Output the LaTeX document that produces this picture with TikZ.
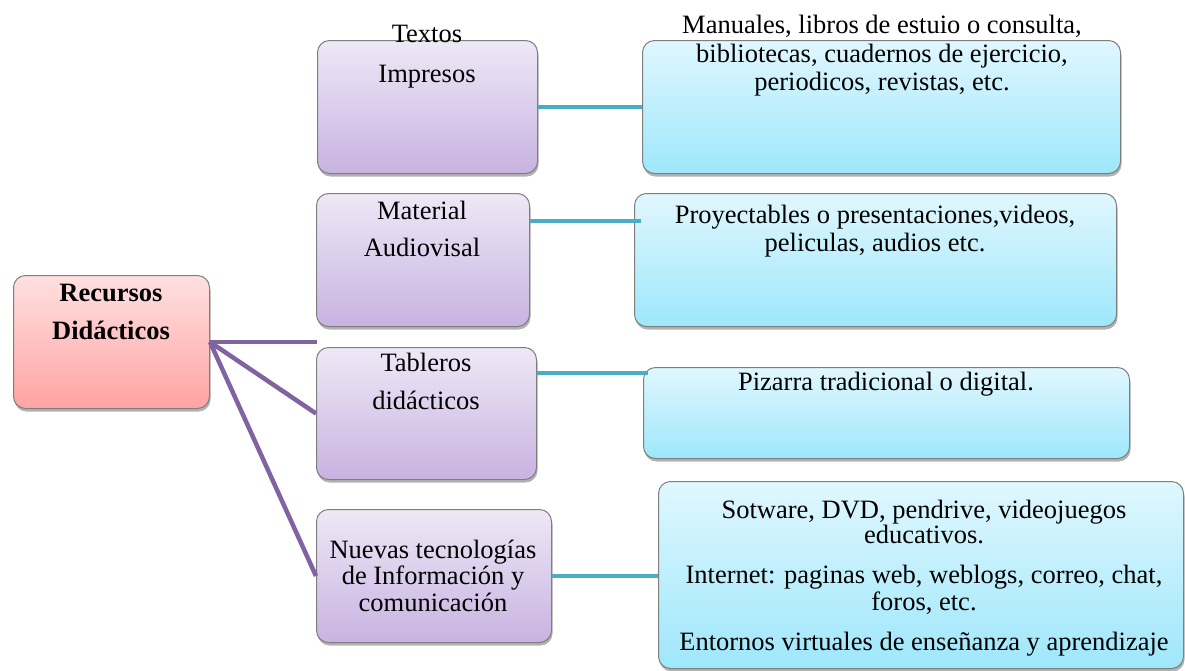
\documentclass[tikz,border=0pt]{standalone}
\usepackage{fontspec}
\setmainfont{Liberation Serif}
\usetikzlibrary{shadows,calc}
\definecolor{boxborder}{HTML}{7F7F7F}
\definecolor{pTop}{HTML}{EEE8F6}
\definecolor{pBot}{HTML}{C8B3E1}
\definecolor{bTop}{HTML}{E0F7FE}
\definecolor{bBot}{HTML}{9EE7FB}
\definecolor{rTop}{HTML}{FFE0E0}
\definecolor{rBot}{HTML}{FFA3A3}
\definecolor{purpleLine}{HTML}{8064A2}
\definecolor{tealLine}{HTML}{4BACC6}
\begin{document}
\begin{tikzpicture}[x=1pt,y=-1pt,
  box/.style={draw=boxborder, line width=1pt, rounded corners=12pt, inner sep=0pt,
    anchor=north west,
    drop shadow={shadow xshift=1pt, shadow yshift=-3pt, opacity=0.3, fill=black}},
  purplebox/.style={box, top color=pTop, bottom color=pBot},
  bluebox/.style={box, top color=bTop, bottom color=bBot},
  rootbox/.style={box, top color=rTop, bottom color=rBot},
  txt/.style={anchor=base, inner sep=0pt, font=\fontsize{26.5}{28}\selectfont},
  btxt/.style={anchor=base, inner sep=0pt, font=\fontsize{26.5}{28}\selectfont\bfseries},
  purpleline/.style={draw=purpleLine, line width=4.5pt},
  tealline/.style={draw=tealLine, line width=4.5pt}]
\useasboundingbox[fill=white] (0,0) rectangle (1185,670);

% boxes
\node[rootbox, minimum width=196pt, minimum height=133pt] (root) at (13,275) {};
\node[purplebox, minimum width=220pt, minimum height=133pt] (tex) at (317,40) {};
\node[purplebox, minimum width=213pt, minimum height=133pt] (mat) at (316,193) {};
\node[purplebox, minimum width=220pt, minimum height=132pt] (tab) at (316,347) {};
\node[purplebox, minimum width=235pt, minimum height=133pt] (nue) at (316,509) {};
\node[bluebox, minimum width=478pt, minimum height=133pt] (b1) at (642,40) {};
\node[bluebox, minimum width=482pt, minimum height=133pt] (b2) at (634,193) {};
\node[bluebox, minimum width=486pt, minimum height=91pt] (b3) at (643,367) {};
\node[bluebox, minimum width=525pt, minimum height=187pt] (b4) at (658,481) {};

% texts
\node[btxt] (r1) at (111,301) {Recursos};
\node[btxt] (r2) at (111,339) {Didácticos};
\node[txt] (t1) at (427,42) {Textos};
\node[txt] (t2) at (427,82) {Impresos};
\node[txt] (m1) at (422,219) {Material};
\node[txt] (m2) at (422,256) {Audiovisal};
\node[txt] (ta1) at (426,371) {Tableros};
\node[txt] (ta2) at (426,409) {didácticos};
\node[txt] (n1) at (433,558) {Nuevas tecnologías};
\node[txt] (n2) at (433,584) {de Información y};
\node[txt] (n3) at (433,611) {comunicación};
\node[txt] (x1) at (882,33) {Manuales, libros de estuio o consulta,};
\node[txt] (x2) at (882,62) {bibliotecas, cuadernos de ejercicio,};
\node[txt] (x3) at (882,90) {periodicos, revistas, etc.};
\node[txt] (y1) at (875,223) {Proyectables o presentaciones,videos,};
\node[txt] (y2) at (875,251) {peliculas, audios etc.};
\node[txt] (z1) at (886,390) {Pizarra tradicional o digital.};
\node[txt] (w1) at (924,518) {Sotware, DVD, pendrive, videojuegos};
\node[txt] (w2) at (924,543) {educativos.};
\node[txt] (w3) at (924,583) {Internet: paginas web, weblogs, correo, chat,};
\node[txt] (w4) at (924,610) {foros, etc.};
\node[txt] (w5) at (924,650) {Entornos virtuales de enseñanza y aprendizaje};

% connectors
\coordinate (p1end) at (317,342);
\draw[purpleline] (root.east) -- (p1end);
\draw[purpleline] (root.east) -- (tab.west);
\draw[purpleline] (root.east) -- (nue.west);

\draw[tealline] (tex.east) -- (b1.west);
\draw[tealline] ($(mat.north east)+(0,28)$) -- ($(b2.north west)+(7,28)$);
\draw[tealline] ($(tab.north east)+(0,26)$) -- ($(b3.north west)+(5,6)$);
\draw[tealline] (nue.east) -- (b4.west |- nue.east);
\end{tikzpicture}
\end{document}
